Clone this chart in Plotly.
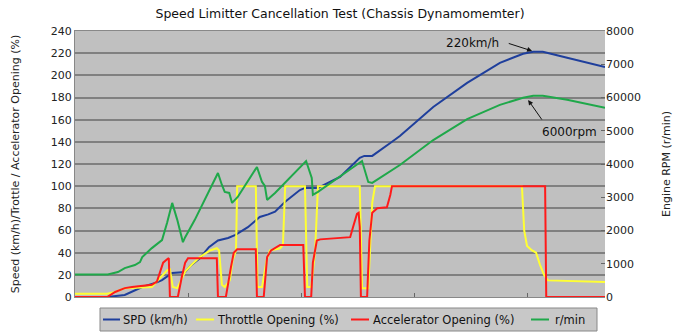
import plotly.graph_objects as go

# ---- data (time in s, ticks every 20 s) ----
spd_t = [0, 5.7, 8.8, 11.9, 14.2, 15.4, 17.2, 19.5, 20.4, 22.1, 23.7, 25.3, 27.1, 28.4, 30.6, 32.7, 34.2, 35.4, 37.2, 39.8, 40.7, 43.0, 46.9, 50.4, 51.2, 52.6, 55.8, 57.5, 63.4, 69.4, 75.2, 79.3, 81.1, 82.8, 87.1, 93.8]
spd_v = [0, 0, 1.8, 9.0, 12.6, 15.3, 21.7, 22.6, 28, 35, 45, 51, 53.2, 56, 63, 72.2, 74.5, 77, 86, 96.5, 98.4, 98.4, 108.3, 125.5, 127.3, 127.3, 139.0, 145.3, 171.5, 193.2, 211.3, 219.4, 221.2, 221.2, 215.8, 207.6]

rpm_t = [0, 5.8, 7.6, 8.8, 10.6, 11.5, 11.9, 13.6, 15.4, 16.3, 17.2, 18.1, 19.1, 19.5, 21.2, 25.3, 26.0, 26.5, 27.3, 27.8, 28.8, 32.2, 33.1, 33.6, 34.0, 35.4, 40.9, 41.6, 41.9, 42.1, 43.0, 50.8, 51.5, 51.9, 52.6, 57.5, 63.4, 69.4, 75.2, 79.3, 81.1, 82.8, 87.1, 93.8]
rpm_v = [680, 680, 750, 870, 960, 1050, 1200, 1470, 1710, 2230, 2830, 2320, 1650, 1800, 2320, 3730, 3370, 3160, 3130, 2830, 3010, 3910, 3460, 3340, 2920, 3130, 4090, 3760, 3580, 3070, 3160, 4090, 3670, 3460, 3430, 3970, 4720, 5350, 5780, 5990, 6050, 6050, 5930, 5690]

thr_t = [0, 5.7, 7.1, 8.8, 13.6, 15.0, 16.3, 16.8, 17.3, 18.1, 18.8, 19.5, 20.4, 22.1, 23.9, 25.1, 25.5, 26.0, 26.5, 27.4, 27.9, 28.5, 28.7, 32.0, 32.3, 33.1, 33.9, 34.5, 36.3, 36.8, 37.2, 40.7, 41.1, 41.8, 42.5, 43.0, 50.4, 50.8, 51.9, 52.6, 53.1, 79.1, 79.5, 80.0, 80.9, 81.6, 82.3, 83.0, 83.7, 93.8]
thr_v = [3, 3, 4.5, 8, 9, 17, 24, 25, 9, 8, 16, 23, 28, 36, 42, 44, 42, 11, 9, 15, 33, 42, 100, 100, 9, 9, 33, 42, 44, 47, 100, 100, 9, 9, 42, 100, 100, 8, 8, 85, 100, 100, 60, 46, 42, 40, 29, 20, 15, 13.5]

acc_t = [0, 5.7, 7.1, 8.8, 10.1, 13.6, 14.5, 15.0, 15.6, 16.3, 16.6, 16.8, 18.2, 18.9, 19.5, 20.0, 25.1, 25.3, 26.7, 27.6, 28.1, 28.7, 32.0, 32.2, 33.4, 34.0, 34.7, 36.3, 40.4, 40.7, 41.8, 42.1, 42.8, 43.4, 46.9, 48.7, 49.2, 49.9, 50.2, 50.4, 50.6, 51.7, 52.1, 52.6, 53.5, 55.2, 55.8, 56.1, 83.2, 83.4, 93.8]
acc_v = [0, 0, 4.5, 8, 9, 11, 14, 22, 31, 34, 35, 0, 0, 18, 31, 35, 35, 0, 0, 27, 40, 43, 43, 0, 0, 36, 42, 47, 47, 0, 0, 31, 51, 52, 53, 54, 63, 75, 76, 63, 0, 0, 51, 76, 80, 81, 92, 100, 100, 0, 0]

x_ticks = [20, 40, 60, 80]
left_ticks = list(range(0, 241, 20))
right_ticks = [0, 1000, 2000, 3000, 4000, 5000, 6000, 7000, 8000]
right_labels = ["0", "1000", "2000", "3000", "4000", "5000", "60000", "7000", "8000"]

series_names = ["SPD (km/h)", "Throttle Opening (%)", "Accelerator Opening (%)", "r/min"]
series_colors = ["#1f3f9c", "#ffff33", "#ff1a1a", "#1fa84a"]

FONT = "DejaVu Sans"
W, H = 680, 335
ML, MR, MT, MB = 75, 75, 31, 38
PW, PH = W - ML - MR, H - MT - MB


def px_x(px):
    return (px - ML) / PW


def px_y(py):
    return (H - MB - py) / PH


fig = go.Figure()
xs = [spd_t, thr_t, acc_t, rpm_t]
ys = [spd_v, thr_v, acc_v, rpm_v]
for i, (name, col) in enumerate(zip(series_names, series_colors)):
    fig.add_trace(go.Scatter(x=xs[i], y=ys[i], name=name, mode="lines",
                             yaxis="y2" if i == 3 else "y",
                             line=dict(color=col, width=2), showlegend=False))

fig.update_layout(
    width=W, height=H,
    margin=dict(l=ML, r=MR, t=MT, b=MB, autoexpand=False),
    paper_bgcolor="white", plot_bgcolor="#c0c0c0",
    font=dict(family=FONT, size=11, color="#222222"),
    title=dict(text="Speed Limitter Cancellation Test (Chassis Dynamomemter)",
               x=0.5, xanchor="center", y=0.96, yanchor="middle",
               font=dict(family=FONT, size=12.5, color="#111111")),
    xaxis=dict(range=[0, 93.8], tickvals=x_ticks, showticklabels=False,
               ticks="inside", ticklen=4, tickcolor="#666666",
               showgrid=False, zeroline=False, showline=True, linecolor="#888888",
               mirror=True),
    yaxis=dict(range=[0, 240], tickvals=left_ticks, showgrid=True,
               gridcolor="#808080", gridwidth=1.5, zeroline=False,
               showline=True, linecolor="#888888",
               title=dict(text="Speed (km/h)/Trottle / Accelerator Opening (%)",
                          font=dict(size=11), standoff=28)),
    yaxis2=dict(range=[0, 8000], tickvals=right_ticks, ticktext=right_labels,
                overlaying="y", side="right", showgrid=False, zeroline=False,
                ticks="inside", ticklen=4, tickcolor="#666666",
                title=dict(text="Engine RPM (r/min)", font=dict(size=11), standoff=22)),
    showlegend=False,
)

# legend box (drawn manually so it fits on one row like the reference)
fig.add_shape(type="rect", xref="paper", yref="paper",
              x0=px_x(100), x1=px_x(597), y0=px_y(331), y1=px_y(308),
              fillcolor="#c8c8c8", line=dict(color="#888888", width=1), layer="above")
leg_line_x = [(103, 120), (196, 214), (351, 369), (531, 549)]
leg_text_x = [121, 215, 371, 553]
ly = 319.5
for (a, b), tx, name, col in zip(leg_line_x, leg_text_x, series_names, series_colors):
    fig.add_shape(type="line", xref="paper", yref="paper",
                  x0=px_x(a), x1=px_x(b), y0=px_y(ly), y1=px_y(ly),
                  line=dict(color=col, width=2), layer="above")
    fig.add_annotation(xref="paper", yref="paper", x=px_x(tx), y=px_y(ly),
                       text=name, showarrow=False, xanchor="left", yanchor="middle",
                       font=dict(size=11.5, color="#111111"))

fig.add_annotation(x=70.4, y=229.2, text="220km/h", showarrow=False,
                   font=dict(size=12, color="#111111"))
fig.add_annotation(x=80.9, y=222, ax=76.5, ay=229.2, axref="x", ayref="y",
                   text="", showarrow=True, arrowhead=2, arrowsize=1, arrowwidth=1,
                   arrowcolor="#111111")
fig.add_annotation(x=87.6, y=148.9, text="6000rpm", showarrow=False,
                   font=dict(size=12, color="#111111"))
fig.add_annotation(x=80.2, y=177.7, ax=82.8, ay=158.8, axref="x", ayref="y",
                   text="", showarrow=True, arrowhead=2, arrowsize=1, arrowwidth=1,
                   arrowcolor="#111111")

fig.write_html("out.html")
